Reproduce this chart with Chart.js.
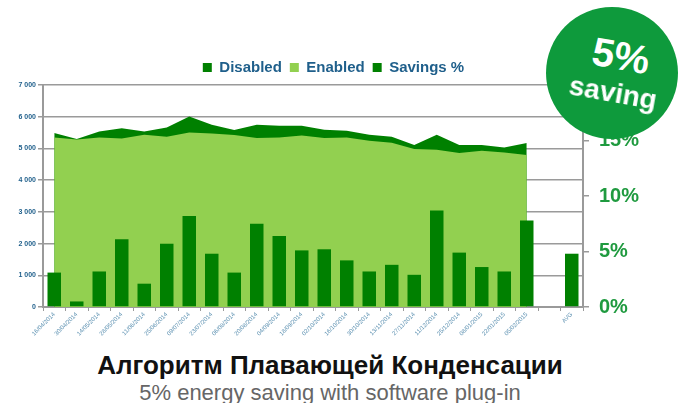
<!DOCTYPE html>
<html>
<head>
<meta charset="utf-8">
<script src="https://cdn.jsdelivr.net/npm/chart.js@4"></script>
<style>
    body { margin: 0; background: #fff; font-family: 'Liberation Sans', Arial, sans-serif; }
    #wrap { position: relative; width: 683px; height: 403px; overflow: hidden; }
    #chart-box { position: absolute; left: 0; top: 0; width: 683px; height: 340px; }
    .badge { position: absolute; left: 546px; top: 7px; width: 132px; height: 132px; border-radius: 50%; background: #0e9a3c; }
    .badge span { position: absolute; color: #fff; font-weight: bold; white-space: nowrap; transform: translate(-50%, -50%) rotate(10deg); }
    .title { position: absolute; left: 0; width: 660px; text-align: center; white-space: nowrap; }
</style>
</head>
<body>
<div id="wrap">
    <div id="chart-box"><canvas id="savings-chart"></canvas></div>
    <div class="badge">
        <span style="left: 75px; top: 49px; font-size: 40px;">5%</span>
        <span style="left: 67px; top: 86px; font-size: 28px;">saving</span>
    </div>
    <div class="title" style="top: 350px; font-size: 26px; font-weight: bold; color: #111;">Алгоритм Плавающей Конденсации</div>
    <div class="title" style="top: 380px; font-size: 22px; color: #666;">5% energy saving with software plug-in</div>
</div>
<script>
const categories = ['16/04/2014', '30/04/2014', '14/05/2014', '28/05/2014', '11/06/2014', '25/06/2014',
    '09/07/2014', '23/07/2014', '06/08/2014', '20/08/2014', '04/09/2014', '18/09/2014',
    '02/10/2014', '16/10/2014', '30/10/2014', '13/11/2014', '27/11/2014', '11/12/2014',
    '25/12/2014', '08/01/2015', '22/01/2015', '05/02/2015', '', 'AVG'];
const disabled = [5483, 5300, 5534, 5640, 5534, 5659, 6004, 5744, 5578, 5744, 5712, 5712,
    5587, 5556, 5430, 5367, 5107, 5430, 5107, 5107, 5031, 5170, null, null];
const enabled = [5345, 5280, 5345, 5314, 5430, 5367, 5502, 5471, 5420, 5326, 5345, 5408,
    5326, 5345, 5242, 5179, 4981, 4959, 4855, 4928, 4874, 4793, null, null];
const savings = [3.1, 0.5, 3.2, 6.1, 2.1, 5.7, 8.2, 4.8, 3.1, 7.5, 6.4, 5.1,
    5.2, 4.2, 3.2, 3.8, 2.9, 8.7, 4.9, 3.6, 3.2, 7.8, null, 4.8];
const leftTicks = [0, 1000, 2000, 3000, 4000, 5000, 6000, 7000];
const rightTicks = [0, 5, 10, 15, 20];

const DARK = '#008000';
const LIGHT = '#92d050';
const GRID = '#9a9a9a';

// the legend sits a little left of the canvas centre
const legendShift = {
    id: 'legendShift',
    afterLayout(chart) {
        chart.legend.left -= 8;
        chart.legend.right -= 8;
    }
};

new Chart(document.getElementById('savings-chart'), {
    type: 'bar',
    data: {
        labels: categories,
        datasets: [
            {
                type: 'line', label: 'Disabled', data: disabled, yAxisID: 'y',
                backgroundColor: DARK, borderColor: DARK, borderWidth: 0,
                pointRadius: 0, fill: 'origin', tension: 0, order: 3
            },
            {
                type: 'line', label: 'Enabled', data: enabled, yAxisID: 'y',
                backgroundColor: LIGHT, borderColor: LIGHT, borderWidth: 0,
                pointRadius: 0, fill: 'origin', tension: 0, order: 2
            },
            {
                type: 'bar', label: 'Savings %', data: savings, yAxisID: 'y1',
                backgroundColor: DARK, barPercentage: 0.6, categoryPercentage: 1, order: 1
            }
        ]
    },
    plugins: [legendShift],
    options: {
        responsive: true,
        maintainAspectRatio: false,
        animation: false,
        layout: { padding: { top: 52, left: 0, right: 0, bottom: 0 } },
        plugins: {
            legend: {
                position: 'top',
                labels: {
                    sort: (a, b) => a.datasetIndex - b.datasetIndex,
                    boxWidth: 9, boxHeight: 9, padding: 8,
                    color: '#1f5f8b',
                    font: { size: 15, weight: 'bold', family: "'Liberation Sans', Arial, sans-serif" }
                }
            },
            tooltip: { enabled: false }
        },
        scales: {
            x: {
                grid: { drawOnChartArea: false, color: GRID, tickLength: 4 },
                border: { color: GRID, width: 2 },
                ticks: {
                    autoSkip: false, minRotation: 45, maxRotation: 45, padding: 0,
                    color: '#5a8fb0', font: { size: 6, family: "'Liberation Sans', Arial, sans-serif" }
                },
                afterFit: s => { s.height = 33; }
            },
            y: {
                position: 'left', min: 0, max: 7000,
                afterBuildTicks: s => { s.ticks = leftTicks.map(v => ({ value: v })); },
                grid: { color: GRID, lineWidth: 1.5, tickLength: 5 },
                border: { color: GRID, width: 2 },
                ticks: {
                    color: '#1f5f8b', padding: 2,
                    font: { size: 7, weight: 'bold', family: "'Liberation Sans', Arial, sans-serif" },
                    callback: v => v.toLocaleString('en-US').replace(',', ' ')
                },
                afterFit: s => { s.width = 43; }
            },
            y1: {
                position: 'right', min: 0, max: 20,
                afterBuildTicks: s => { s.ticks = rightTicks.map(v => ({ value: v })); },
                grid: { drawOnChartArea: false, color: GRID, lineWidth: 1.5, tickLength: 6 },
                border: { color: GRID, width: 2 },
                ticks: {
                    color: '#1f9a3f', padding: 10,
                    font: { size: 20, weight: 'bold', family: "'Liberation Sans', Arial, sans-serif" },
                    callback: v => v + '%'
                },
                afterFit: s => { s.width = 100; }
            }
        }
    }
});
</script>
</body>
</html>
